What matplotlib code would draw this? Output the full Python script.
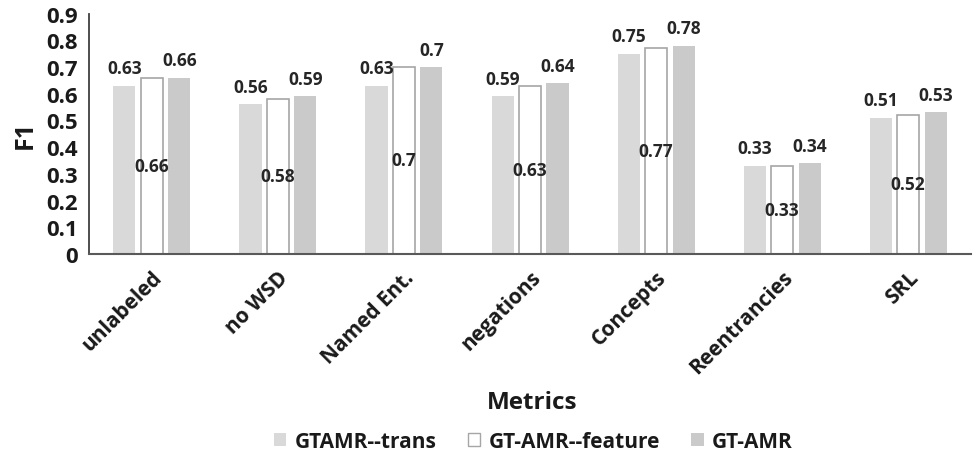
import matplotlib
matplotlib.use("Agg")
import matplotlib.pyplot as plt
import numpy as np
from matplotlib.patches import Patch

plt.rcParams['font.family'] = ['Open Sans', 'DejaVu Sans']

categories = ["unlabeled", "no WSD", "Named Ent.", "negations", "Concepts", "Reentrancies", "SRL"]
series_names = ["GTAMR--trans", "GT-AMR--feature", "GT-AMR"]
trans = [0.63, 0.56, 0.63, 0.59, 0.75, 0.33, 0.51]
feature = [0.66, 0.58, 0.70, 0.63, 0.77, 0.33, 0.52]
gtamr = [0.66, 0.59, 0.70, 0.64, 0.78, 0.34, 0.53]
yticks = [0, 0.1, 0.2, 0.3, 0.4, 0.5, 0.6, 0.7, 0.8, 0.9]

c_light = "#d9d9d9"
c_dark = "#c9cac9"
c_edge = "#a6a6a6"
c_text = "#1a1a1a"

fig = plt.figure(figsize=(9.77, 4.56), dpi=100)
ax = fig.add_axes([0.091, 0.441, 0.903, 0.527])

x = np.arange(len(categories))
step = 0.218
w = 0.175

ax.bar(x - step, trans, w, color=c_light, edgecolor="none")
ax.bar(x, feature, w, color="white", edgecolor=c_edge, linewidth=1.2)
ax.bar(x + step, gtamr, w, color=c_dark, edgecolor="none")

lbl = dict(fontsize=12.5, fontweight="bold", color="#262626", ha="center")
for xi, v in zip(x - step, trans):
    ax.annotate(f"{v:g}", (xi, v), xytext=(0, 6), textcoords="offset points", va="bottom", **lbl)
for xi, v in zip(x + step, gtamr):
    ax.annotate(f"{v:g}", (xi, v), xytext=(0, 6), textcoords="offset points", va="bottom", **lbl)
for xi, v in zip(x, feature):
    ax.text(xi, v / 2, f"{v:g}", va="center", **lbl)

ax.set_xlim(-0.5, len(categories) - 0.5)
ax.set_ylim(0, 0.9)
ax.set_yticks(yticks)
ax.set_yticklabels([f"{t:g}" for t in yticks], fontsize=16, fontweight="bold", color=c_text)
ax.set_xticks(x)
ax.set_xticklabels(categories, rotation=45, ha="right", rotation_mode="anchor",
                   fontsize=15, fontweight="bold", color=c_text)
ax.tick_params(axis="both", length=0)
ax.tick_params(axis="y", pad=8)
ax.tick_params(axis="x", pad=9)

for s in ["top", "right"]:
    ax.spines[s].set_visible(False)
ax.spines["left"].set_color("#404040")
ax.spines["bottom"].set_color("#595959")
ax.spines["left"].set_linewidth(1.3)
ax.spines["bottom"].set_linewidth(1.5)

ax.set_ylabel("F1", fontsize=18, fontweight="bold", color=c_text, labelpad=6)
fig.text(0.545, 0.116, "Metrics", ha="center", va="center", fontsize=17.5, fontweight="bold", color=c_text)

handles = [Patch(facecolor=c_light, edgecolor="none"),
           Patch(facecolor="white", edgecolor=c_edge),
           Patch(facecolor=c_dark, edgecolor="none")]
fig.legend(handles, series_names, loc="center", bbox_to_anchor=(0.546, 0.03), ncol=3,
           frameon=False, handlelength=0.6, handleheight=0.6, handletextpad=0.4,
           columnspacing=1.5, prop=dict(size=15, weight="bold"), labelcolor=c_text)

fig.savefig("out.png", dpi=100)
